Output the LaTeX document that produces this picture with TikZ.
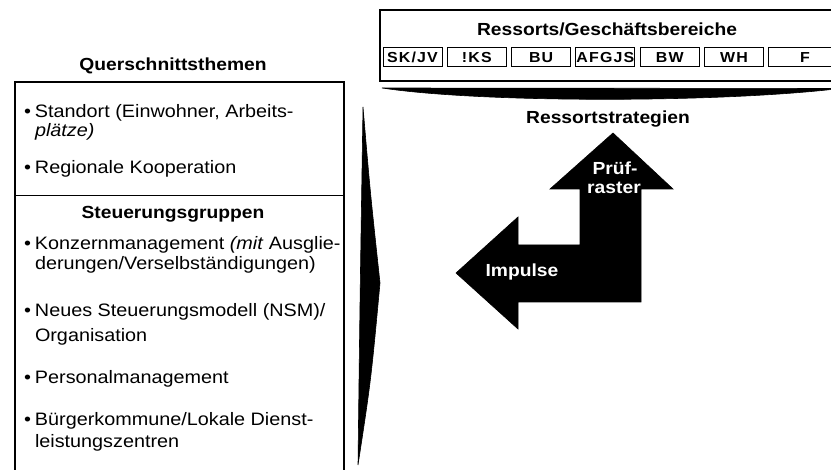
\documentclass[tikz,border=0pt]{standalone}
\usepackage{fontspec}
\setmainfont{Liberation Sans}[FakeStretch=1.1]
\begin{document}
\begin{tikzpicture}[x=1pt,y=-1pt,
  every node/.style={inner sep=0pt,outer sep=0pt},
  body/.style={anchor=base west,font=\fontsize{18}{21}\selectfont},
  head/.style={anchor=base,font=\fontsize{17.5}{21}\selectfont\bfseries},
  wlabel/.style={anchor=base,text=white,font=\fontsize{17.5}{21}\selectfont\bfseries},
  dept/.style={draw,line width=1pt,minimum width=59pt,minimum height=19pt,
    font=\fontsize{14.5}{16}\selectfont\bfseries\addfontfeatures{LetterSpace=8}},
  frame/.style={line width=1.5pt},
  solidfill/.style={fill=black,draw=black,line width=0.6pt}]
\useasboundingbox (0,0) rectangle (831,470);
\clip (0,0) rectangle (831,470);

% ---- top box: Ressorts ----
\draw[frame] (380,10) rectangle (845,81);
\node[head] (rtitle) at (607,36) {Ressorts/Geschäftsbereiche};
\node[dept] (d1) at (412.5,57.5) {SK/JV};
\node[dept] (d2) at (476.8,57.5) {!KS};
\node[dept] (d3) at (541.1,57.5) {BU};
\node[dept] (d4) at (605.4,57.5) {AFGJS};
\node[dept] (d5) at (669.7,57.5) {BW};
\node[dept] (d6) at (734.0,57.5) {WH};
\node[dept,minimum width=74pt] (d7) at (805,57.5) {F};

% lens below top box
\fill[solidfill] (382,88) -- (840,88.5) .. controls (720,103) and (480,103) .. (382,88) -- cycle;

\node[head] (rstrat) at (608,124) {Ressortstrategien};

% ---- L-shaped arrow ----
\fill[solidfill] (613,133) -- (673,189) -- (641,189) -- (641,302) -- (518,302)
  -- (518,329) -- (456,273) -- (518,217) -- (518,245) -- (580,245) -- (580,189)
  -- (550,189) -- cycle;
\node[wlabel] (pr1) at (615,175) {Prüf-};
\node[wlabel] (pr2) at (614,194) {raster};
\node[wlabel] (imp) at (522,277) {Impulse};

% ---- vertical lens arrow ----
\fill[solidfill] (363,107) .. controls (370,190) .. (380,283)
  .. controls (371,380) .. (358,465) .. controls (360,300) .. (363,107) -- cycle;

% ---- left box ----
\node[head] (qtitle) at (173,71) {Querschnittsthemen};
\draw[frame] (15,480) -- (15,82) -- (344,82) -- (344,480);
\draw[line width=0.8pt] (15,195) -- (344,195);

\node[body] (s1) at (24,118) {\makebox[11pt][l]{•}Standort (Einwohner, Arbeits-};
\node[body] (s2) at (35,137) {\itshape plätze)};
\node[body] (s3) at (24,174) {\makebox[11pt][l]{•}Regionale Kooperation};
\node[head] (sg) at (173,219) {Steuerungsgruppen};
\node[body] (k1) at (24,250) {\makebox[11pt][l]{•}Konzernmanagement \textit{(mit} Ausglie-};
\node[body] (k2) at (35,270) {derungen/Verselbständigungen)};
\node[body] (n1) at (24,317) {\makebox[11pt][l]{•}Neues Steuerungsmodell (NSM)/};
\node[body] (n2) at (35,342) {Organisation};
\node[body] (p1) at (24,384) {\makebox[11pt][l]{•}Personalmanagement};
\node[body] (b1) at (24,426) {\makebox[11pt][l]{•}Bürgerkommune/Lokale Dienst-};
\node[body] (b2) at (35,448) {leistungszentren};
\end{tikzpicture}
\end{document}
